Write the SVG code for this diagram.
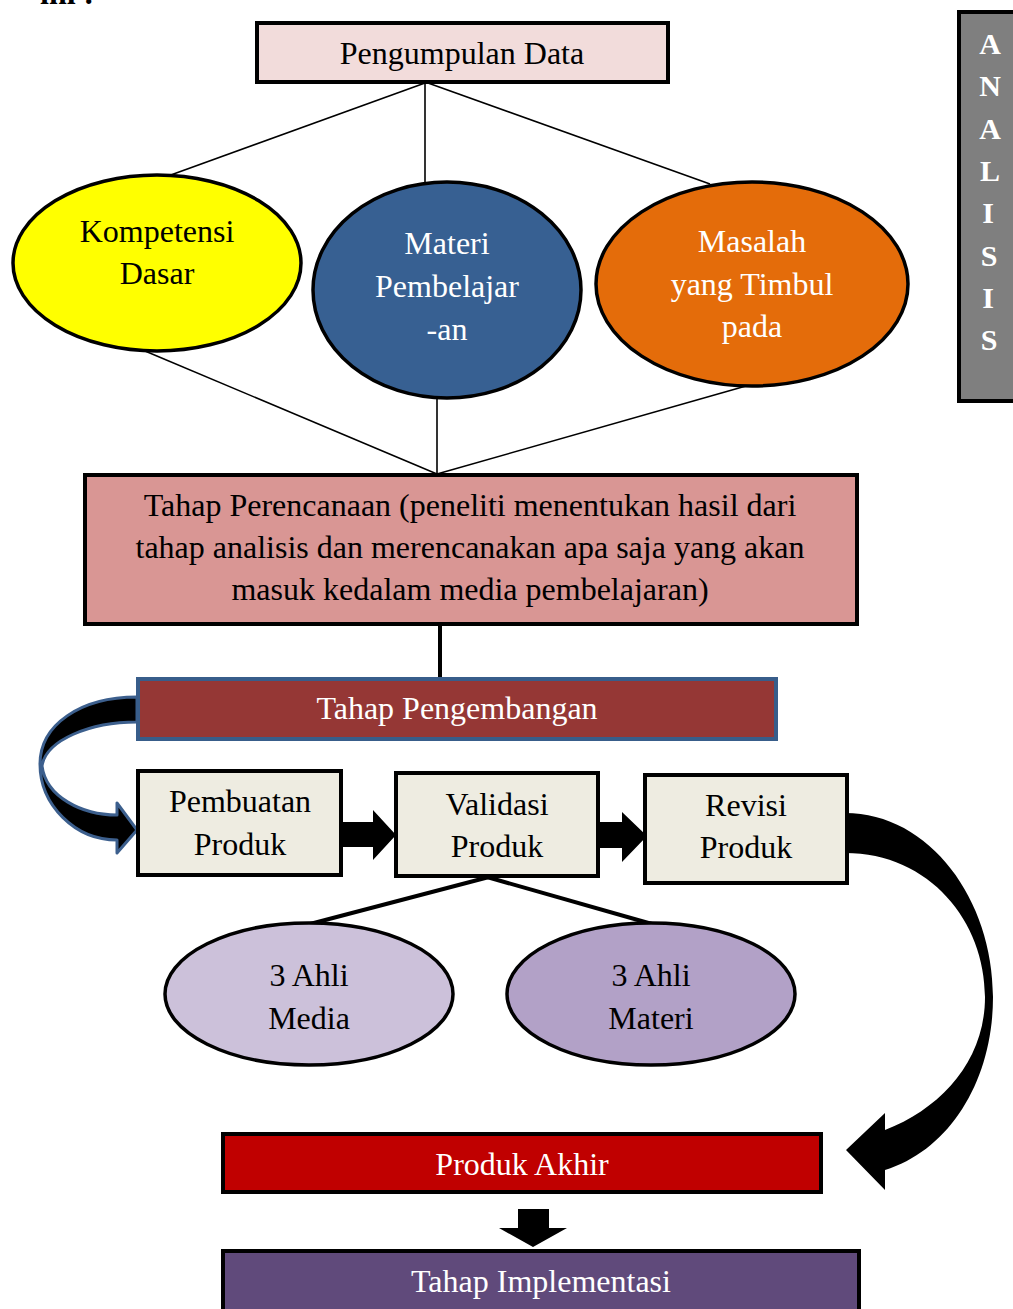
<svg xmlns="http://www.w3.org/2000/svg" width="1013" height="1309" viewBox="0 0 1013 1309">
<style>
.t{font-family:"Liberation Serif","Times New Roman",serif;font-size:32px;text-anchor:middle;fill:#000}
.w{fill:#fff}
.box{stroke:#000;stroke-width:4}
.ell{stroke:#000;stroke-width:3.5}
.thin{stroke:#000;stroke-width:1.6;fill:none}
.thick{stroke:#000;stroke-width:4;fill:none}
.lt{font-family:"Liberation Serif","Times New Roman",serif;font-size:30px;font-weight:bold;text-anchor:middle;fill:#fff}
</style>
<rect width="1013" height="1309" fill="#fff"/>
<text x="40" y="4" style="font-family:'Liberation Serif',serif;font-size:32px;font-weight:bold">ini :</text>

<g id="connectors">
<line class="thin" x1="425" y1="83" x2="168" y2="176"/>
<line class="thin" x1="425" y1="83" x2="425" y2="184"/>
<line class="thin" x1="428" y1="83" x2="710" y2="184"/>
<line class="thin" x1="145" y1="351" x2="437" y2="474"/>
<line class="thin" x1="437" y1="397" x2="437" y2="474"/>
<line class="thin" x1="746" y1="386" x2="437" y2="474"/>
<line class="thick" x1="440" y1="625" x2="440" y2="678"/>
<line class="thick" x1="489" y1="877" x2="310" y2="924"/>
<line class="thick" x1="487" y1="877" x2="652" y2="924"/>
<path d="M343 822 H373 V810 L396 835 L373 860 V847 H343 Z" fill="#000"/>
<path d="M599 822 H622 V812 L647 836 L622 862 V848 H599 Z" fill="#000"/>
<path d="M137 697 C80 697 40 725 40 764 C40 805 75 840 117 840 L117 853 L137 830 L117 803 L117 815 C82 815 46 797 42 766 C46 740 90 722 137 722 Z" fill="#000" stroke="#3C5F8D" stroke-width="3" stroke-linejoin="round"/>
<path d="M845 813 C930 813 993 900 993 997 C993 1080 950 1150 885 1170 L885 1190 L846 1150 L885 1113 L885 1130 C942 1108 985 1060 985 997 C985 922 930 853 845 853 Z" fill="#000"/>
<path d="M518 1209 H549 V1228 H567 L533 1247 L499 1228 H518 Z" fill="#000"/>
</g>

<g id="analisis">
<rect x="959" y="12" width="60" height="389" fill="#7F7F7F" stroke="#000" stroke-width="4"/>
<text class="lt" x="990" y="54">A</text>
<text class="lt" x="990" y="96">N</text>
<text class="lt" x="990" y="139">A</text>
<text class="lt" x="990" y="181">L</text>
<text class="lt" x="988" y="223">I</text>
<text class="lt" x="989" y="266">S</text>
<text class="lt" x="988" y="308">I</text>
<text class="lt" x="989" y="350">S</text>
</g>

<g id="pengumpulan">
<rect class="box" x="257" y="23" width="411" height="59" fill="#F2DCDB"/>
<text class="t" x="462" y="64">Pengumpulan Data</text>
</g>

<g id="kompetensi">
<ellipse class="ell" cx="157" cy="263" rx="144" ry="88" fill="#FFFF00"/>
<text class="t" x="157" y="242">Kompetensi</text>
<text class="t" x="157" y="284">Dasar</text>
</g>

<g id="materi">
<ellipse class="ell" cx="447" cy="290" rx="134" ry="108" fill="#376092"/>
<text class="t w" x="447" y="254">Materi</text>
<text class="t w" x="447" y="297">Pembelajar</text>
<text class="t w" x="447" y="340">-an</text>
</g>

<g id="masalah">
<ellipse class="ell" cx="752" cy="284" rx="156" ry="102" fill="#E46C0A"/>
<text class="t w" x="752" y="252">Masalah</text>
<text class="t w" x="752" y="295">yang Timbul</text>
<text class="t w" x="752" y="337">pada</text>
</g>

<g id="perencanaan">
<rect class="box" x="85" y="475" width="772" height="149" fill="#D99694"/>
<text class="t" x="470" y="516">Tahap Perencanaan (peneliti menentukan hasil dari</text>
<text class="t" x="470" y="558">tahap analisis dan merencanakan apa saja yang akan</text>
<text class="t" x="470" y="600">masuk kedalam media pembelajaran)</text>
</g>

<g id="pengembangan">
<rect x="138" y="679" width="638" height="60" fill="#953735" stroke="#385D8A" stroke-width="4"/>
<text class="t w" x="457" y="719">Tahap Pengembangan</text>
</g>

<g id="pembuatan">
<rect class="box" x="138" y="771" width="203" height="104" fill="#EEECE1"/>
<text class="t" x="240" y="812">Pembuatan</text>
<text class="t" x="240" y="855">Produk</text>
</g>

<g id="validasi">
<rect class="box" x="396" y="773" width="202" height="103" fill="#EEECE1"/>
<text class="t" x="497" y="815">Validasi</text>
<text class="t" x="497" y="857">Produk</text>
</g>

<g id="revisi">
<rect class="box" x="645" y="775" width="202" height="108" fill="#EEECE1"/>
<text class="t" x="746" y="816">Revisi</text>
<text class="t" x="746" y="858">Produk</text>
</g>

<g id="ahli-media">
<ellipse class="ell" cx="309" cy="994" rx="144" ry="71" fill="#CCC1DA"/>
<text class="t" x="309" y="986">3 Ahli</text>
<text class="t" x="309" y="1029">Media</text>
</g>

<g id="ahli-materi">
<ellipse class="ell" cx="651" cy="994" rx="144" ry="71" fill="#B2A1C7"/>
<text class="t" x="651" y="986">3 Ahli</text>
<text class="t" x="651" y="1029">Materi</text>
</g>

<g id="produk-akhir">
<rect class="box" x="223" y="1134" width="598" height="58" fill="#C00000"/>
<text class="t w" x="522" y="1175">Produk Akhir</text>
</g>

<g id="implementasi">
<rect class="box" x="223" y="1251" width="636" height="70" fill="#604A7B"/>
<text class="t w" x="541" y="1292">Tahap Implementasi</text>
</g>
</svg>
